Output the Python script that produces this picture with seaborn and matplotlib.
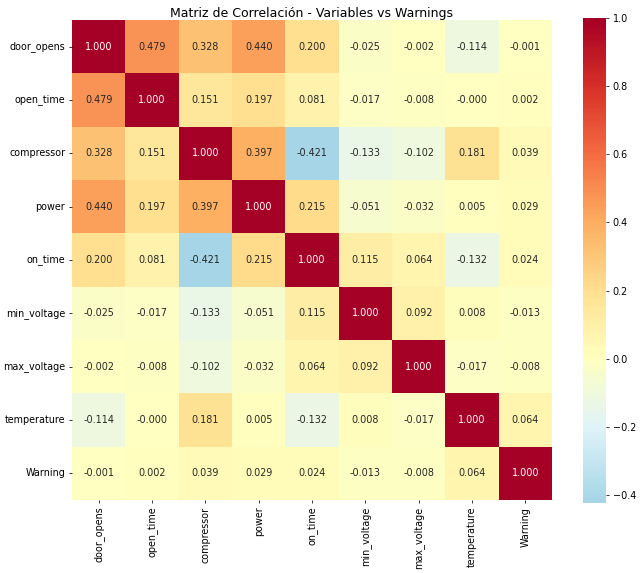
import numpy as np
import pandas as pd
import matplotlib
matplotlib.use("Agg")
import matplotlib.pyplot as plt
import seaborn as sns

# variables del análisis
variables = ["door_opens", "open_time", "compressor", "power", "on_time",
             "min_voltage", "max_voltage", "temperature", "Warning"]

# correlaciones (fila por fila)
door_opens = [1.000, 0.479, 0.328, 0.440, 0.200, -0.025, -0.002, -0.114, -0.001]
open_time = [0.479, 1.000, 0.151, 0.197, 0.081, -0.017, -0.008, -0.0003, 0.002]
compressor = [0.328, 0.151, 1.000, 0.397, -0.421, -0.133, -0.102, 0.181, 0.039]
power = [0.440, 0.197, 0.397, 1.000, 0.215, -0.051, -0.032, 0.005, 0.029]
on_time = [0.200, 0.081, -0.421, 0.215, 1.000, 0.115, 0.064, -0.132, 0.024]
min_voltage = [-0.025, -0.017, -0.133, -0.051, 0.115, 1.000, 0.092, 0.008, -0.013]
max_voltage = [-0.002, -0.008, -0.102, -0.032, 0.064, 0.092, 1.000, -0.017, -0.008]
temperature = [-0.114, -0.0003, 0.181, 0.005, -0.132, 0.008, -0.017, 1.000, 0.064]
warning = [-0.001, 0.002, 0.039, 0.029, 0.024, -0.013, -0.008, 0.064, 1.000]

corr = pd.DataFrame(
    [door_opens, open_time, compressor, power, on_time,
     min_voltage, max_voltage, temperature, warning],
    index=variables, columns=variables)

# -----------------------------
# Visualización
# -----------------------------
W, H = 641, 573
fig = plt.figure(figsize=(W / 100, H / 100), dpi=100)
ax = fig.add_axes([72 / W, (H - 500) / H, 480 / W, 480 / H])
cax = fig.add_axes([582.5 / W, (H - 502.5) / H, 23.5 / W, 485 / H])

sns.heatmap(corr, annot=True, fmt=".3f", cmap="RdYlBu_r", center=0,
            ax=ax, cbar_ax=cax, annot_kws={"size": 6.9})
ax.set_title("Matriz de Correlación - Variables vs Warnings", fontsize=9.0, pad=2.5)
ax.tick_params(labelsize=6.9, length=2.4, width=0.55, pad=2.4)
plt.setp(ax.get_yticklabels(), rotation=0)
plt.setp(ax.get_xticklabels(), rotation=90)
cax.tick_params(labelsize=6.9, length=2.4, width=0.55, pad=2.4)

plt.savefig("out.png", dpi=100)
